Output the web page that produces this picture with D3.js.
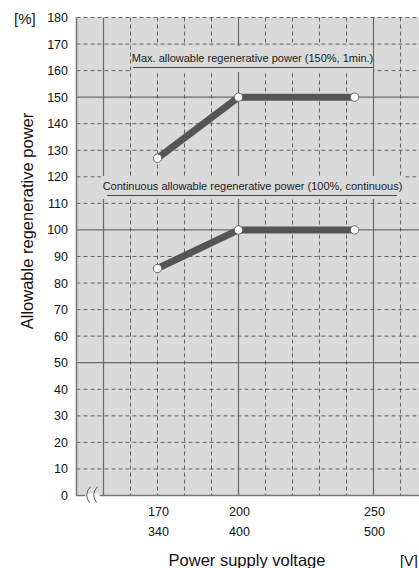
<!DOCTYPE html>
<html><head><meta charset="utf-8">
<script src="https://cdn.jsdelivr.net/npm/d3@7"></script>
<style>body{margin:0;background:#fff}svg{display:block}text{font-family:"Liberation Sans",Arial,sans-serif}</style>
</head><body>
<script>
// ---- data ----
const voltages = [170, 200, 243];
const maxPower = [127, 150, 150];
const contPower = [85.5, 100, 100];
const yTicks = [0,10,20,30,40,50,60,70,80,90,100,110,120,130,140,150,160,170,180];
const xGrid = [150,160,170,180,190,200,210,220,230,240,250,260,270];
const xTickVals = [170, 200, 250];
const xTickLabels200 = ["170","200","250"];
const xTickLabels400 = ["340","400","500"];
const maxLabel = "Max. allowable regenerative power (150%, 1min.)";
const contLabel = "Continuous allowable regenerative power (100%, continuous)";

const W = 419, H = 568;
const svg = d3.select("body").append("svg").attr("width", W).attr("height", H);

const x = d3.scaleLinear().domain([140, 280]).range([76.5, 454.5]);
const y = d3.scaleLinear().domain([0, 180]).range([495.5, 17.5]);

// plot background
svg.append("rect").attr("x", x(140)).attr("y", y(180)).attr("width", x(280)-x(140)).attr("height", y(0)-y(180)).attr("fill", "#dadada");

// horizontal grid
svg.append("g").selectAll("line").data(yTicks.filter(d=>d>0)).join("line")
  .attr("x1", x(140)).attr("x2", W+5).attr("y1", d=>y(d)).attr("y2", d=>y(d))
  .attr("stroke", d => d%50===0 ? "#6a6a6a" : "#555")
  .attr("stroke-width", d => d%50===0 ? 1.2 : 0.9)
  .attr("stroke-dasharray", d => d%50===0 ? null : "4,3");
// vertical grid
svg.append("g").selectAll("line").data(xGrid).join("line")
  .attr("x1", d=>x(d)).attr("x2", d=>x(d)).attr("y1", y(180)).attr("y2", y(0))
  .attr("stroke", d => d%50===0 ? "#6a6a6a" : "#555")
  .attr("stroke-width", d => d%50===0 ? 1.2 : 0.9)
  .attr("stroke-dasharray", d => d%50===0 ? null : "4,3");

// label backgrounds + labels
function label(txt, x0, x1, ytop, ybot, base, uy, ux0, ux1, fs){
  svg.append("rect").attr("x", x0).attr("y", ytop).attr("width", x1-x0).attr("height", ybot-ytop).attr("fill", "#dadada");
  svg.append("text").attr("x", (x0+x1)/2).attr("y", base).attr("text-anchor", "middle")
    .attr("font-size", fs).attr("fill", "#1a1a1a").text(txt);
  svg.append("line").attr("x1", ux0).attr("x2", ux1).attr("y1", uy).attr("y2", uy).attr("stroke", "#333").attr("stroke-width", 0.9);
}
label(maxLabel, 132, 373, 46, 72, 61.5, 67.5, 133, 373, 11);
label(contLabel, 101, 404, 176, 199, 189.5, 195.5, 107, 397, 11);

// axes
svg.append("line").attr("x1", x(140)).attr("x2", x(140)).attr("y1", y(180)).attr("y2", y(0)+0.5).attr("stroke", "#777").attr("stroke-width", 1.6);
svg.append("line").attr("x1", x(140)).attr("x2", W+5).attr("y1", y(0)).attr("y2", y(0)).attr("stroke", "#777").attr("stroke-width", 1.6);
// axis break symbol
const bx = x(140) + 9;
svg.append("rect").attr("x", bx).attr("y", y(0)-2).attr("width", 14).attr("height", 4).attr("fill", "#fff");
[0, 7].forEach(o => {
  svg.append("path").attr("d", `M${bx+5+o},${y(0)-9} Q${bx-2+o},${y(0)-1} ${bx+4+o},${y(0)+7}`)
    .attr("fill", "none").attr("stroke", "#555").attr("stroke-width", 1);
});

// series lines
const line = d3.line().x(d=>x(d[0])).y(d=>y(d[1]));
[maxPower, contPower].forEach(s => {
  const pts = voltages.map((v,i)=>[v, s[i]]);
  svg.append("path").attr("d", line(pts)).attr("fill", "none").attr("stroke", "#555").attr("stroke-width", 7);
  svg.append("g").selectAll("circle").data(pts).join("circle")
    .attr("cx", d=>x(d[0])).attr("cy", d=>y(d[1])).attr("r", 4.2)
    .attr("fill", "#fff").attr("stroke", "#666").attr("stroke-width", 1);
});

// y tick labels
svg.append("g").selectAll("text").data(yTicks).join("text")
  .attr("x", 68).attr("y", d=>y(d)+4.5).attr("text-anchor", "end").attr("font-size", 12.5).attr("fill", "#111")
  .text(d=>d);
// x tick labels
svg.append("g").selectAll("text").data(xTickVals).join("text")
  .attr("x", d=>x(d)+1).attr("y", 516).attr("text-anchor", "middle").attr("font-size", 12.5).attr("fill", "#111")
  .text((d,i)=>xTickLabels200[i]);
svg.append("g").selectAll("text").data(xTickVals).join("text")
  .attr("x", d=>x(d)+1).attr("y", 536).attr("text-anchor", "middle").attr("font-size", 12.5).attr("fill", "#111")
  .text((d,i)=>xTickLabels400[i]);

// unit labels and titles
svg.append("text").attr("x", 14).attr("y", 24).attr("font-size", 15).attr("fill", "#111").text("[%]");
svg.append("text").attr("x", 400).attr("y", 566).attr("font-size", 14.5).attr("fill", "#111").text("[V]");
svg.append("text").attr("x", 247).attr("y", 566).attr("text-anchor", "middle").attr("font-size", 16.5).attr("fill", "#111").text("Power supply voltage");
svg.append("text").attr("transform", "translate(33,221) rotate(-90)").attr("text-anchor", "middle").attr("font-size", 16.5).attr("fill", "#111").text("Allowable regenerative power");
</script>
</body></html>
